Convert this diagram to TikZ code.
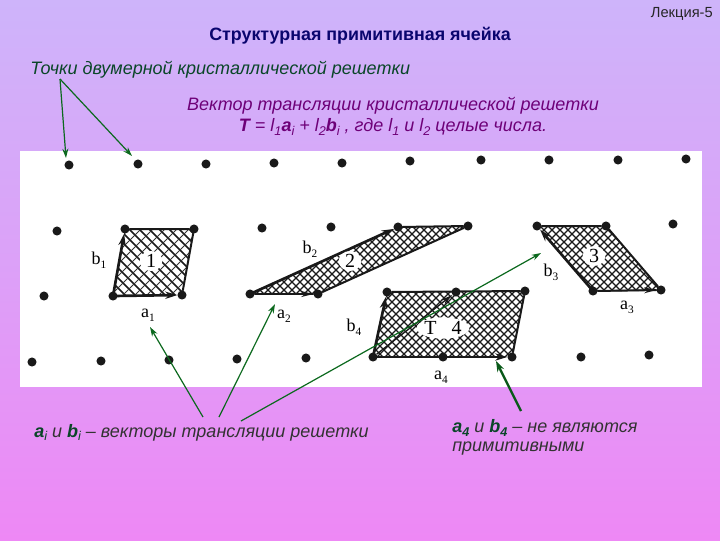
\documentclass[tikz,border=0pt]{standalone}
\usepackage{fontspec}
\setmainfont{Liberation Sans}
\newfontfamily\lblfont{Liberation Serif}
\usetikzlibrary{arrows.meta,shapes.geometric}
\definecolor{bgtop}{RGB}{206,180,250}
\definecolor{bgbot}{RGB}{238,136,245}
\definecolor{arrowgreen}{RGB}{12,105,30}
\definecolor{darkgreen}{RGB}{10,70,40}
\definecolor{titleblue}{RGB}{10,5,110}
\definecolor{vecpurple}{RGB}{110,0,120}
\newcommand{\sbs}[1]{\raisebox{-.35ex}{\fontsize{9.5}{10}\selectfont #1}}
\newcommand{\lblsub}[2]{{\lblfont\fontsize{13.5}{14}\selectfont #1\raisebox{-.5ex}{\fontsize{8.5}{9}\selectfont #2}}}
\tikzset{
  latdot/.style={circle,fill=black!90,inner sep=0pt,minimum size=6.8pt},
  cellborder/.style={line width=1.5pt,black!90,line cap=round},
  vecarrow/.style={line width=2pt,black!90,-{Stealth[length=9pt,width=5.5pt]}},
  thinvec/.style={line width=1pt,black!90,-{Stealth[length=9pt,width=4.5pt]}},
  greenarrow/.style={line width=.9pt,arrowgreen,-{Stealth[length=7pt,width=4.5pt]}},
  thickgreen/.style={line width=1.7pt,arrowgreen!85!black,-{Stealth[length=8pt,width=5.5pt]}},
  digit/.style={font=\lblfont\fontsize{15}{15}\selectfont,inner sep=0pt,fill=white,ellipse,minimum width=17pt,minimum height=15pt},
  hatchline/.style={line width=1pt,black!90},
  bodytext/.style={inner sep=0pt,font=\itshape\fontsize{13.5}{15}\selectfont}
}
\newcommand{\crosshatch}[1]{%
  \begin{scope}
    \clip #1;
    \foreach \d in {-264,-256,...,720}{
      \draw[hatchline] (\d,150) -- (\d+240,390);
      \draw[hatchline] (\d,390) -- (\d+240,150);
    }
  \end{scope}}
\begin{document}
\begin{tikzpicture}[x=.75pt,y=-.75pt]
\useasboundingbox (0,0) rectangle (720,540);
\shade[top color=bgtop,bottom color=bgbot,middle color=bgtop!55!bgbot] (0,0) rectangle (720,540);
\fill[white] (20,151) rectangle (702,387);

% cell 1: strong strokes one way, thinner the other
\begin{scope}
  \clip (113,296) -- (182,295) -- (194,229) -- (125,229) -- cycle;
  \foreach \d in {-260,-250,...,720}{
    \draw[line width=1.15pt,black!90] (\d,150) -- (\d+240,390);
  }
  \foreach \d in {-260,-248,...,720}{
    \draw[line width=.6pt,black!80] (\d,390) -- (\d+240,150);
  }
\end{scope}
\crosshatch{(250,294) -- (318,294) -- (468,226) -- (398,227) -- cycle}
\crosshatch{(537,226) -- (606,226) -- (661,290) -- (593,291) -- cycle}
\crosshatch{(373,357) -- (512,357) -- (525,291) -- (387,292) -- cycle}

% lattice
\foreach \x/\y/\n in {
 69/165/a1,138/164/a2,206/164/a3,274/163/a4,342/163/a5,410/161/a6,481/160/a7,549/160/a8,618/160/a9,686/159/a10,
 57/231/b1,125/229/b2,194/229/b3,262/228/b4,331/227/b5,398/227/b6,468/226/b7,537/226/b8,606/226/b9,673/224/b10,
 44/296/c1,113/296/c2,182/295/c3,250/294/c4,318/294/c5,387/292/c6,456/292/c7,525/291/c8,593/291/c9,661/290/c10,
 32/362/d1,101/361/d2,169/360/d3,237/359/d4,306/358/d5,373/357/d6,443/357/d7,512/357/d8,581/357/d9,649/355/d10}{
  \node[latdot] (\n) at (\x,\y) {};
}

% cell borders
\draw[cellborder] (b2) -- (b3) -- (c3);
\draw[cellborder] (b6) -- (b7) -- (c5);
\draw[cellborder] (b8) -- (b9) -- (c10);
\draw[cellborder] (c9) -- (c10);
\draw[cellborder] (c6) -- (c8) -- (d8);
\draw[cellborder] (c4) -- (c5);
% translation vectors
\draw[vecarrow] (c2.center) -- (c3);
\draw[vecarrow] (c2.center) -- (b2);
\draw[thinvec] (c4) -- (c5);
\draw[vecarrow] (c4.center) -- (b6);
\draw[thinvec] (c9) -- (c10);
\draw[vecarrow] (c9.center) -- (b8);
\draw[vecarrow] (d6.center) -- (d8);
\draw[vecarrow] (d6.center) -- (c6);
\draw[thinvec] (d6) -- (c7);

% cell numbers
\node[digit] (n1) at (151,261) {1};
\node[digit] (n2) at (350,261) {2};
\node[digit] (n3) at (594,256) {3};
\node[digit,minimum width=36pt,minimum height=16pt] (n4) at (443,328) {T\hspace{.75em}4};

% vector labels
\node (la1) at (148,315) {\lblsub{a}{1}};
\node (lb1) at (99,260) {\lblsub{b}{1}};
\node (la2) at (284,316) {\lblsub{a}{2}};
\node (lb2) at (310,249) {\lblsub{b}{2}};
\node (la3) at (627,307) {\lblsub{a}{3}};
\node (lb3) at (551,272) {\lblsub{b}{3}};
\node (la4) at (441,377) {\lblsub{a}{4}};
\node (lb4) at (354,327) {\lblsub{b}{4}};

% texts
\node[anchor=east,inner sep=0pt,font=\fontsize{11}{12}\selectfont,text=black!85] (lec) at (713,14) {Лекция-5};
\node[inner sep=0pt,font=\bfseries\fontsize{13.4}{15}\selectfont,text=titleblue] (title) at (360,36) {Структурная примитивная ячейка};
\node[bodytext,anchor=west,text=darkgreen] (pts) at (30,70) {Точки двумерной кристаллической решетки};
\node[bodytext,text=vecpurple] (vec1) at (393,106) {Вектор трансляции кристаллической решетки};
\node[bodytext,text=vecpurple] (vec2) at (393,127) {\textbf{T} = l\sbs{1}\textbf{a}\sbs{i} + l\sbs{2}\textbf{b}\sbs{i} , где l\sbs{1} и l\sbs{2} целые числа.};
\node[bodytext,anchor=west,text=black!80] (ab) at (34,433) {\textcolor{darkgreen}{\textbf{a}\sbs{i}} и \textcolor{darkgreen}{\textbf{b}\sbs{i}} – векторы трансляции решетки};
\node[bodytext,anchor=west,text=black!80] (nt1) at (452,428) {\textcolor{darkgreen}{\textbf{a\sbs{4}}} и \textcolor{darkgreen}{\textbf{b\sbs{4}}} – не являются};
\node[bodytext,anchor=west,text=black!80] (nt2) at (452,449) {примитивными};

% green pointers
\coordinate (src1) at (60,79);
\coordinate (src2) at (203,417);
\coordinate (src3) at (219,417);
\coordinate (src4) at (241,421);
\coordinate (src5) at (521,411);
\coordinate (tip0a) at (66,158);
\coordinate (tip0b) at (132,156);
\coordinate (tip1) at (150,327);
\coordinate (tip2) at (275,304);
\coordinate (tip3) at (541,253);
\coordinate (tip4) at (496,361);
\draw[greenarrow] (src1) -- (tip0a);
\draw[greenarrow] (src1) -- (tip0b);
\draw[greenarrow] (src2) -- (tip1);
\draw[greenarrow] (src3) -- (tip2);
\draw[greenarrow] (src4) -- (tip3);
\draw[thickgreen] (src5) -- (tip4);
\end{tikzpicture}
\end{document}
